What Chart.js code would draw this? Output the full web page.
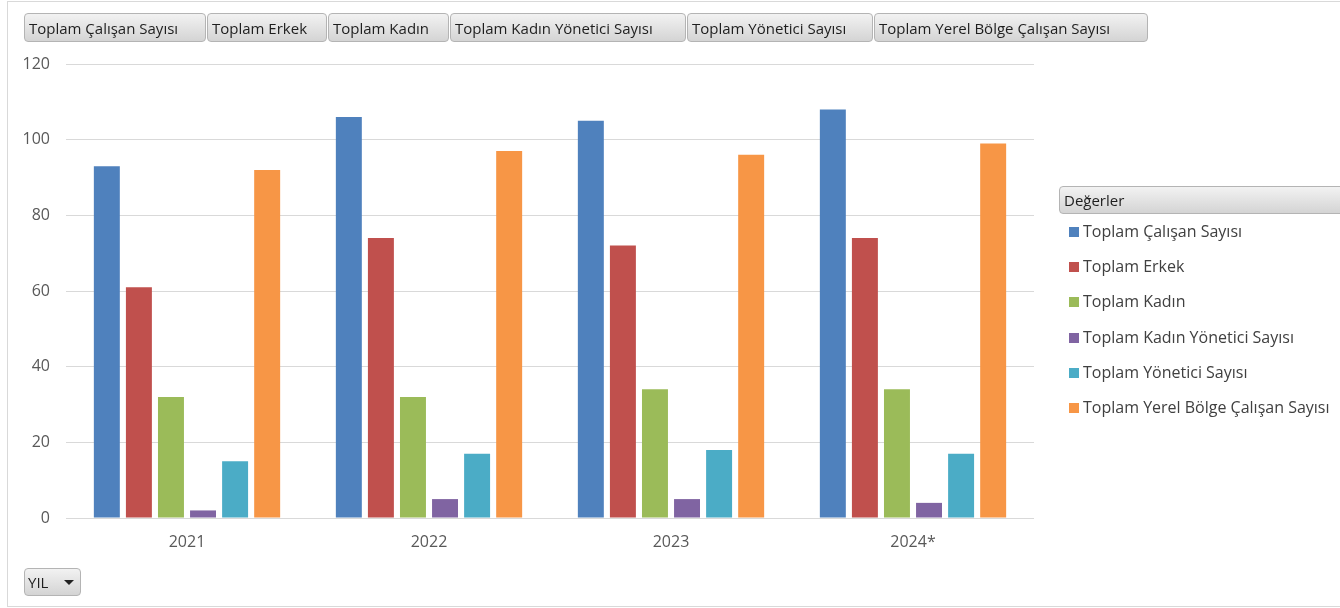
<!DOCTYPE html>
<html>
<head>
<meta charset="utf-8">
<script src="https://cdn.jsdelivr.net/npm/chart.js@4.4.1/dist/chart.umd.min.js"></script>
<style>
  html, body { margin: 0; padding: 0; background: #fff; }
  body { width: 1340px; height: 608px; position: relative; overflow: hidden; font-family: "Open Sans", sans-serif; }
  #frame { position: absolute; left: 7px; top: 1px; width: 1400px; height: 606px; border: 1px solid #d9d9d9; box-sizing: border-box; }
  #wrap { position: absolute; left: 0; top: 0; width: 1340px; height: 608px; }
  .btn { position: absolute; top: 13px; height: 29px; box-sizing: border-box; border: 1px solid #b4b4b4; border-radius: 4px;
         background: linear-gradient(#f2f2f2, #d4d4d4); font-size: 15px; color: #1e1e1e; line-height: 28px; padding-left: 4px; white-space: nowrap; overflow: hidden; }
  #legendHead { position: absolute; left: 1059px; top: 186px; width: 300px; height: 28px; box-sizing: border-box; border: 1px solid #b4b4b4;
         border-radius: 4px; background: linear-gradient(#f2f2f2, #d4d4d4); font-size: 15px; color: #1e1e1e; line-height: 27px; padding-left: 4px; }
  .li { position: absolute; left: 1069px; height: 20px; font-size: 16px; color: #404040; line-height: 20px; white-space: nowrap; }
  .li span.sw { display: inline-block; width: 10px; height: 10px; margin-right: 4px; vertical-align: 0px; }
  #yil { position: absolute; left: 24px; top: 568px; width: 57px; height: 28px; box-sizing: border-box; border: 1px solid #b4b4b4; border-radius: 4px;
         background: linear-gradient(#f2f2f2, #d4d4d4); font-size: 15px; color: #1e1e1e; line-height: 27px; padding-left: 3px; }
  #yil .arr { position: absolute; left: 39px; top: 11px; width: 0; height: 0; border-left: 5px solid transparent; border-right: 5px solid transparent; border-top: 5px solid #222; }
</style>
</head>
<body>
<div id="frame"></div>
<div id="wrap"><canvas id="c" width="1340" height="608"></canvas></div>
<div id="buttons"></div>
<div id="legendHead">Değerler</div>
<div id="legend"></div>
<div id="yil">YIL<span class="arr"></span></div>
<script>
const categories = ["2021", "2022", "2023", "2024*"];
const seriesNames = ["Toplam Çalışan Sayısı", "Toplam Erkek", "Toplam Kadın", "Toplam Kadın Yönetici Sayısı", "Toplam Yönetici Sayısı", "Toplam Yerel Bölge Çalışan Sayısı"];
const toplamCalisan = [93, 106, 105, 108];
const toplamErkek = [61, 74, 72, 74];
const toplamKadin = [32, 32, 34, 34];
const toplamKadinYonetici = [2, 5, 5, 4];
const toplamYonetici = [15, 17, 18, 17];
const toplamYerelBolge = [92, 97, 96, 99];
const yTicks = [0, 20, 40, 60, 80, 100, 120];
const colors = ["#4F81BD", "#C0504D", "#9BBB59", "#8064A2", "#4BACC6", "#F79646"];
const seriesValues = [toplamCalisan, toplamErkek, toplamKadin, toplamKadinYonetici, toplamYonetici, toplamYerelBolge];

// top field buttons
const btnPos = [[24, 182], [207, 120], [328, 121], [450, 236], [687, 186], [874, 274]];
const bdiv = document.getElementById('buttons');
seriesNames.forEach((n, i) => {
  const d = document.createElement('div');
  d.className = 'btn';
  d.style.left = btnPos[i][0] + 'px';
  d.style.width = btnPos[i][1] + 'px';
  d.textContent = n;
  bdiv.appendChild(d);
});
// legend
const ldiv = document.getElementById('legend');
seriesNames.forEach((n, i) => {
  const d = document.createElement('div');
  d.className = 'li';
  d.style.top = (221 + i * 35.2) + 'px';
  d.innerHTML = '<span class="sw" style="background:' + colors[i] + '"></span>';
  d.appendChild(document.createTextNode(n));
  ldiv.appendChild(d);
});

new Chart(document.getElementById('c'), {
  type: 'bar',
  data: {
    labels: categories,
    datasets: seriesNames.map((n, i) => ({
      label: n,
      data: seriesValues[i],
      backgroundColor: colors[i],
      borderWidth: 0,
      categoryPercentage: 0.795,
      barPercentage: 0.81
    }))
  },
  options: {
    responsive: false,
    animation: false,
    devicePixelRatio: 1,
    layout: { padding: { left: 0, right: 306, top: 64, bottom: 0 } },
    plugins: { legend: { display: false }, tooltip: { enabled: false } },
    scales: {
      x: {
        grid: { display: false, drawTicks: false },
        border: { display: false },
        ticks: { color: '#595959', font: { family: 'Open Sans', size: 16 }, padding: 15 },
        afterFit: s => { s.height = 90; }
      },
      y: {
        min: 0, max: 120,
        afterBuildTicks: s => { s.ticks = yTicks.map(v => ({ value: v })); },
        grid: { color: '#d9d9d9', lineWidth: 1, drawTicks: false },
        border: { display: false },
        ticks: { color: '#595959', font: { family: 'Open Sans', size: 16 }, padding: 16 },
        afterFit: s => { s.width = 66; }
      }
    }
  }
});
</script>
</body>
</html>
